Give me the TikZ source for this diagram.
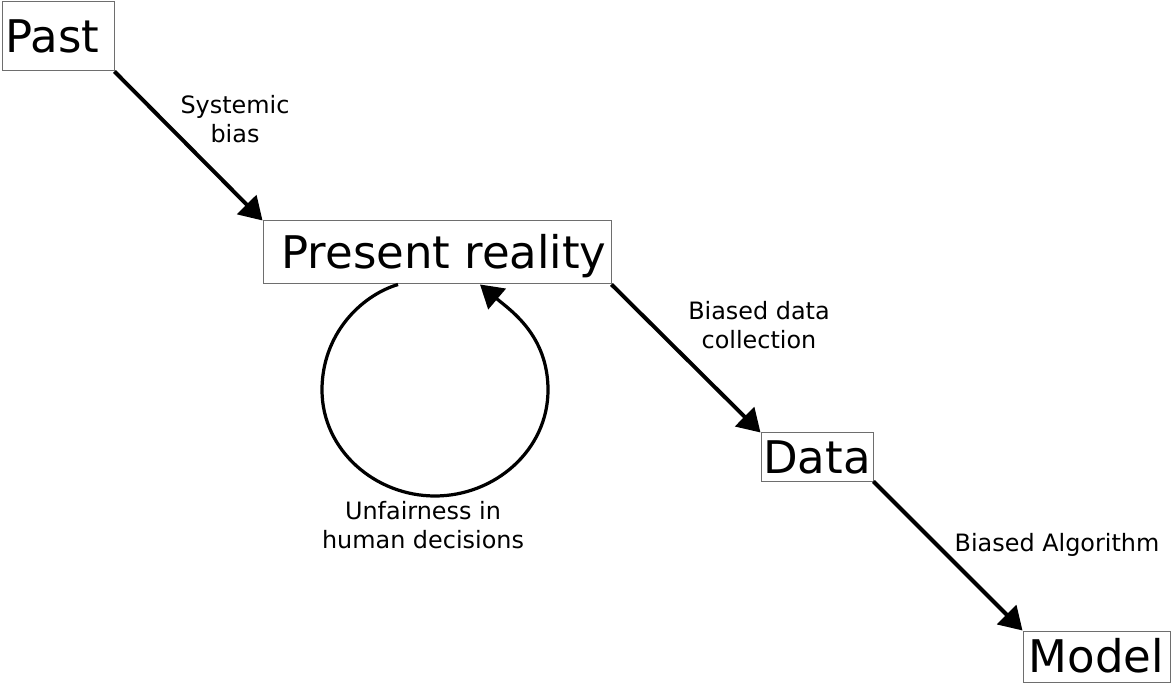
\documentclass[tikz,border=0pt]{standalone}
\usepackage{fontspec}
\setmainfont{DejaVu Sans}
\usetikzlibrary{arrows.meta}

\begin{document}
\begin{tikzpicture}[
  stagebox/.style={draw=boxgray, line width=0.7pt, inner sep=0pt,
    font=\fontsize{32}{38}\selectfont, text height=23.3pt, text depth=0pt},
  flowlbl/.style={align=center, inner sep=0pt, font=\fontsize{17}{20.4}\selectfont},
  flow/.style={line width=2.8pt, -{Triangle[length=16pt, width=19pt]}},
]
\definecolor{boxgray}{RGB}{110,110,110}

\useasboundingbox (0,0) rectangle (29.35,17.125);

\node [stagebox, minimum width=2.8cm, minimum height=1.725cm] (past) at (1.45,16.2125) {Past\kern8pt\relax};
\node [stagebox, minimum width=8.7cm, minimum height=1.575cm] (present) at (10.925,10.8125) {\hspace{10pt}Present reality};
\node [stagebox, minimum width=2.8cm, minimum height=1.2cm] (data) at (20.425,5.7) {Data};
\node [stagebox, minimum width=3.675cm, minimum height=1.275cm] (model) at (27.4125,0.7125) {Model};

\draw [flow] (past.south east) -- (present.north west);
\draw [flow] (present.south east) -- (data.north west);
\draw [flow] (data.south east) -- (model.north west);

% feedback loop under the present
\draw [flow, line width=2.3pt] ([xshift=-0.975cm]present.south)
  .. controls (9.0,9.725) and (8.05,8.75) .. (8.05,7.375)
  .. controls (8.05,5.875) and (9.375,4.725) .. (10.875,4.725)
  .. controls (12.375,4.725) and (13.7,5.875) .. (13.7,7.375)
  .. controls (13.7,8.75) and (12.75,9.375) .. ([xshift=1.075cm]present.south);

\node [flowlbl] (lblbias) at (5.875,14.15) {Systemic\\bias};
\node [flowlbl] (lblcollect) at (18.975,9.0) {Biased data\\collection};
\node [flowlbl] (lblloop) at (10.575,4.0) {Unfairness in\\human decisions};
\node [flowlbl] (lblalgo) at (26.425,3.5) {Biased Algorithm};

\end{tikzpicture}
\end{document}
